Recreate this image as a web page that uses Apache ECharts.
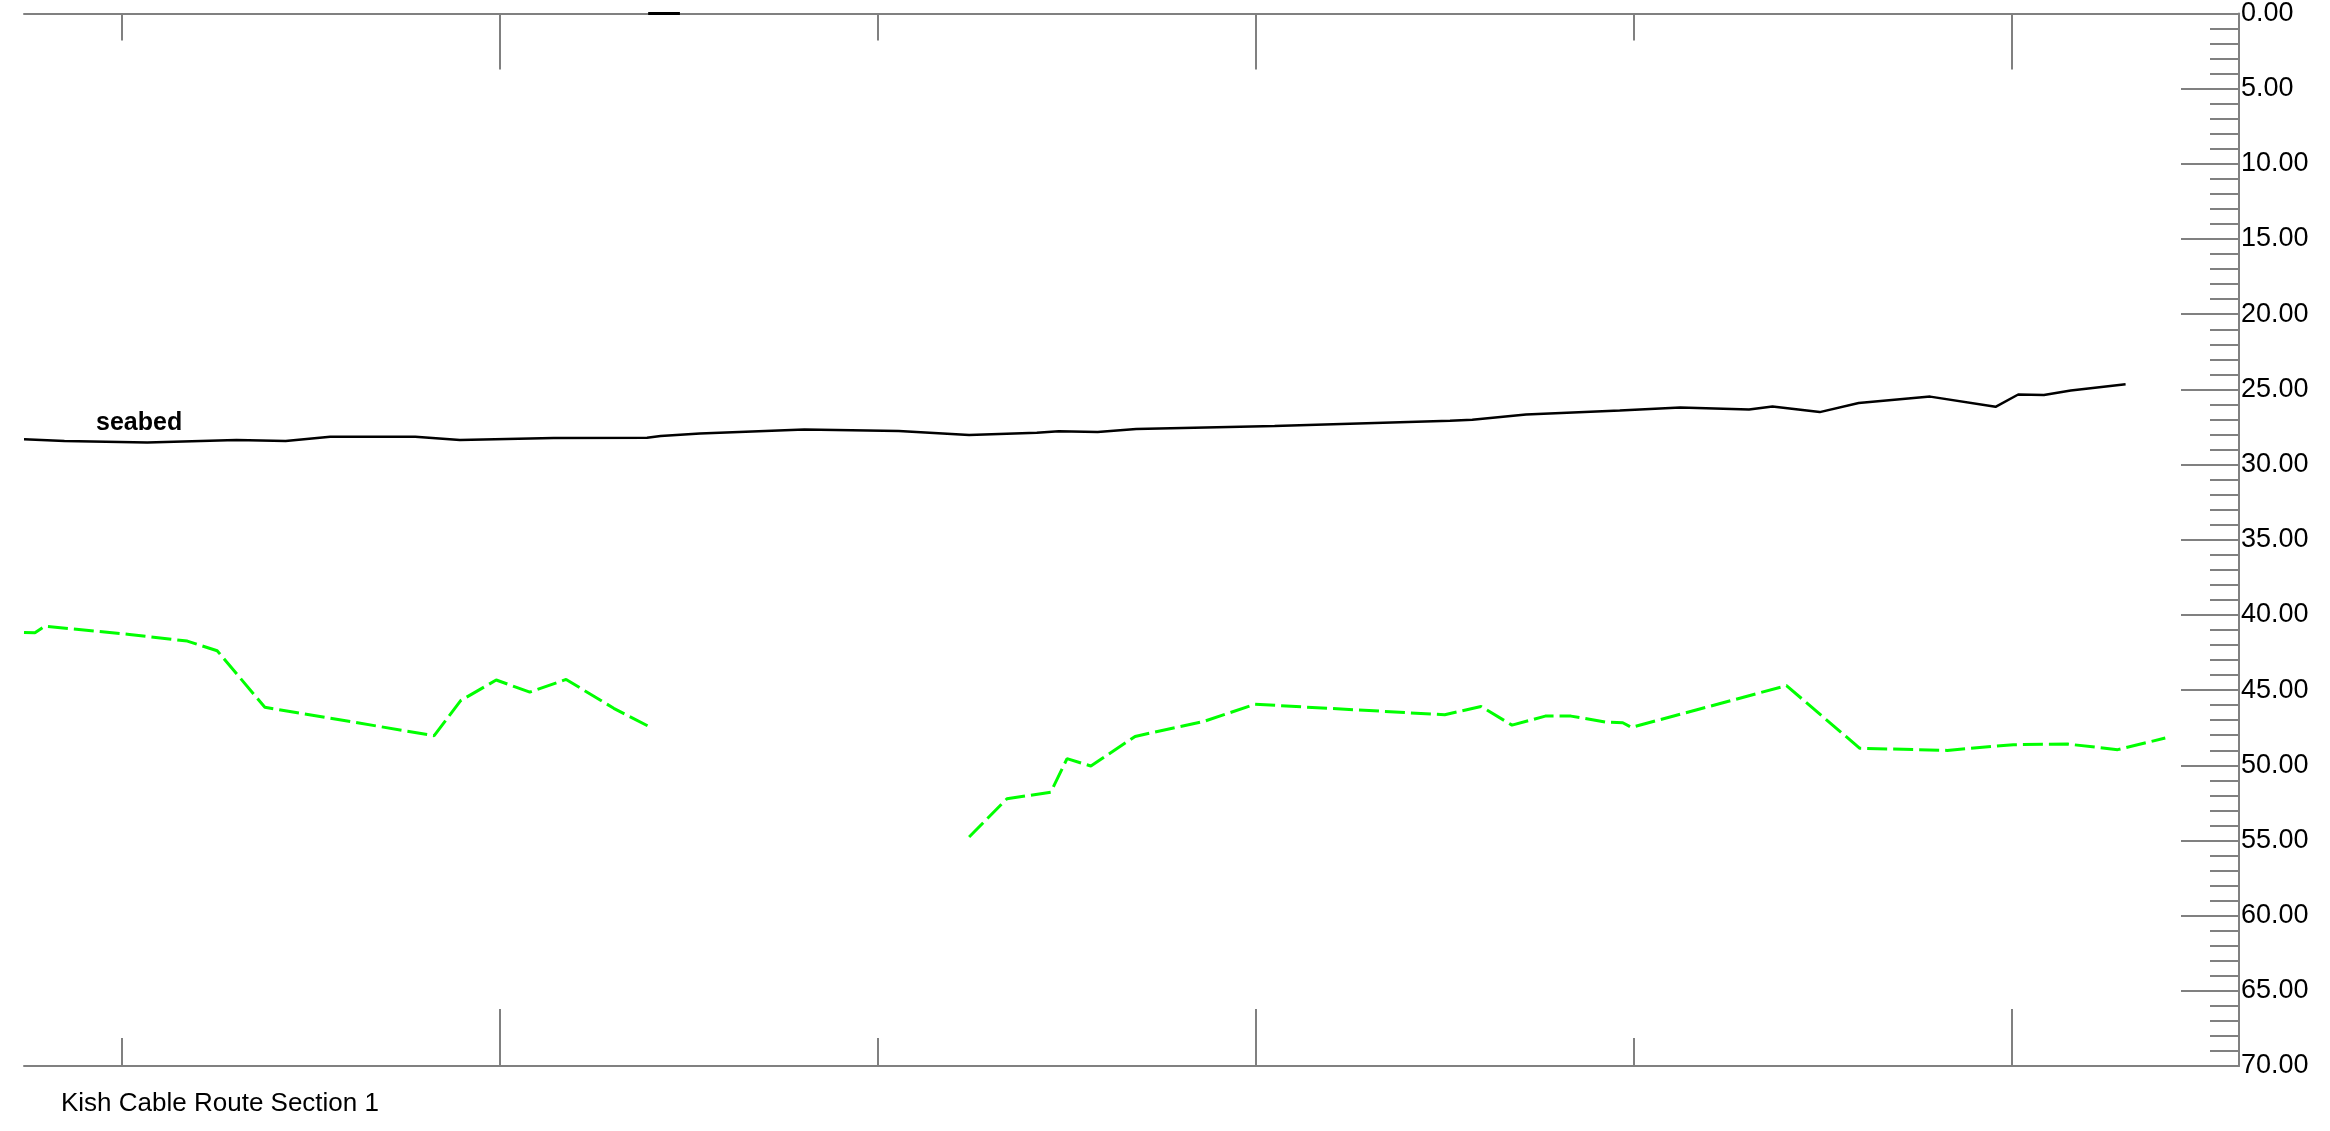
<!DOCTYPE html>
<html>
<head>
<meta charset="utf-8">
<script src="https://cdn.jsdelivr.net/npm/echarts@6/dist/echarts.min.js"></script>
<style>
html,body{margin:0;padding:0;background:#fff;}
#c{width:2330px;height:1131px;}
</style>
</head>
<body>
<div id="c"></div>
<script>
// ---- data (x = chainage units, tick every 100; y = depth) ----
const xMinorTicks = [0, 200, 400];
const xMajorTicks = [100, 300, 500];
const depthTickLabels = ['0.00','5.00','10.00','15.00','20.00','25.00','30.00','35.00','40.00','45.00','50.00','55.00','60.00','65.00','70.00'];

const seabedX = [-25.9,-15.2,6.7,30.3,43.3,55.1,77.6,89.4,114.2,138.9,142.5,152.9,180.5,205.5,224.1,242.0,247.8,258.1,268.3,304.9,351.3,357.2,371.4,396.2,412.2,430.4,436.6,449.1,459.4,478.3,495.6,501.6,508.4,515.5,530.0];
const seabedDepth = [28.32,28.43,28.54,28.36,28.43,28.15,28.15,28.36,28.23,28.21,28.10,27.93,27.66,27.77,28.03,27.88,27.79,27.83,27.64,27.44,27.09,27.02,26.67,26.40,26.21,26.34,26.14,26.51,25.91,25.48,26.16,25.34,25.38,25.08,24.66];

const layerAX = [-25.9,-23.0,-20.4,2.0,17.3,25.2,37.8,82.6,89.6,99.0,107.9,117.5,130.1,139.8];
const layerADepth = [41.17,41.19,40.75,41.30,41.74,42.38,46.14,48.03,45.70,44.33,45.13,44.29,46.21,47.47];

const layerBX = [224.1,234.1,245.7,250.0,256.3,268.0,286.1,299.7,349.9,359.5,367.7,376.5,383.3,392.5,397.0,399.3,440.3,459.7,482.8,500.3,514.7,527.9,540.5];
const layerBDepth = [54.77,52.23,51.79,49.56,50.05,48.08,47.09,45.94,46.64,46.09,47.33,46.73,46.73,47.13,47.17,47.48,44.70,48.87,49.01,48.63,48.59,48.96,48.19];

const topMarkX = [139.2, 147.6];
const topMarkDepth = [0, 0];

const X_MIN = -25.9, X_MAX = 560;

function pairs(xs, ys){ return xs.map((x,i)=>[x, ys[i]]); }

const gray = '#808080';
function xAx(pos, ticks, len, showLine){
  return {
    type:'value', position:pos, min:X_MIN, max:X_MAX,
    axisLine:{show:showLine, onZero:false, lineStyle:{color:gray, width:2}},
    axisTick:{show:true, inside:true, length:len, customValues:ticks, lineStyle:{color:gray, width:2}},
    axisLabel:{show:false}, splitLine:{show:false}
  };
}

const chart = echarts.init(document.getElementById('c'), null, {renderer:'canvas'});
chart.setOption({
  animation:false,
  backgroundColor:'#ffffff',
  title:{
    text:'Kish Cable Route Section 1', left:56, top:1086,
    textStyle:{fontFamily:'Liberation Sans', fontSize:26, fontWeight:'normal', color:'#000'}
  },
  graphic:[{
    type:'text', left:96, top:411,
    style:{text:'seabed', fontFamily:'Liberation Sans', fontSize:25, fontWeight:'bold', fill:'#000'}
  }],
  grid:{left:24, right:91, top:9, bottom:65, containLabel:false},
  xAxis:[
    xAx('bottom', xMinorTicks, 28, true),
    xAx('bottom', xMajorTicks, 57, false),
    xAx('top', xMinorTicks, 27, true),
    xAx('top', xMajorTicks, 56, false)
  ],
  yAxis:{
    type:'value', position:'right', inverse:true, min:0, max:70, interval:5,
    axisLine:{show:true, onZero:false, lineStyle:{color:gray, width:2}},
    axisTick:{show:true, inside:true, length:58, lineStyle:{color:gray, width:2}},
    minorTick:{show:true, splitNumber:5, length:29, lineStyle:{color:gray, width:2}},
    splitLine:{show:false}, minorSplitLine:{show:false},
    axisLabel:{
      show:true, margin:2, color:'#000', fontFamily:'Liberation Sans', fontSize:27,
      padding:[10,0,0,0],
      formatter:(v)=>depthTickLabels[Math.round(v/5)]
    }
  },
  series:[
    {name:'seabed', type:'line', xAxisIndex:0, data:pairs(seabedX, seabedDepth), symbol:'none',
     lineStyle:{color:'#000', width:2.5}, clip:false},
    {name:'layerA', type:'line', xAxisIndex:0, data:pairs(layerAX, layerADepth), symbol:'none',
     lineStyle:{color:'#00ff00', width:3, type:[20,6]}, clip:false},
    {name:'layerB', type:'line', xAxisIndex:0, data:pairs(layerBX, layerBDepth), symbol:'none',
     lineStyle:{color:'#00ff00', width:3, type:[20,6]}, clip:false},
    {name:'topMark', type:'line', xAxisIndex:0, data:pairs(topMarkX, topMarkDepth), symbol:'none',
     lineStyle:{color:'#000', width:3}, clip:false, z:5}
  ]
});
</script>
</body>
</html>
